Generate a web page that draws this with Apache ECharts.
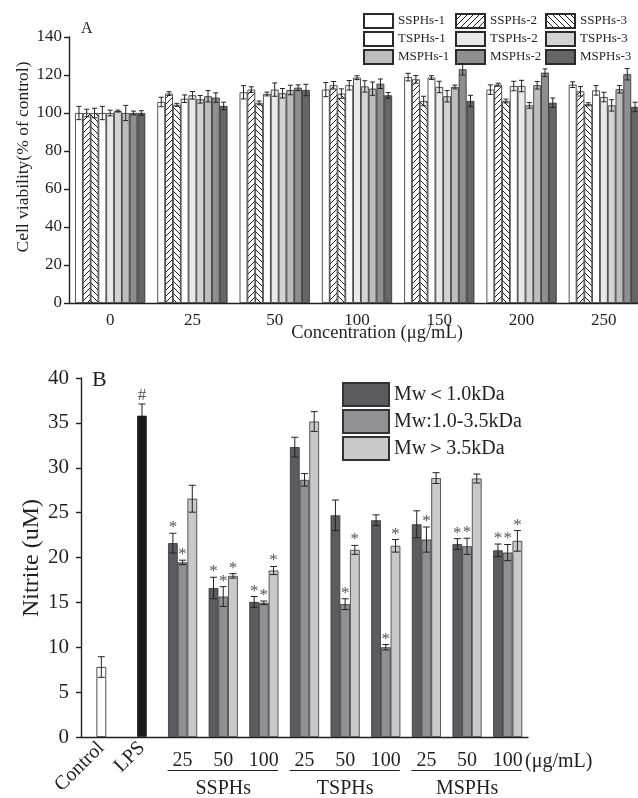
<!DOCTYPE html>
<html>
<head>
<meta charset="utf-8">
<script src="https://cdn.jsdelivr.net/npm/echarts@6.0.0/dist/echarts.min.js"></script>
<style>
  html, body { margin: 0; padding: 0; background: #fff; }
  #main { width: 638px; height: 798px; }
</style>
</head>
<body>
<div id="main"></div>
<script>
// ---- panel A: cell viability ----
const concLabels = ['0', '25', '50', '100', '150', '200', '250']
const namesA = ['SSPHs-1', 'SSPHs-2', 'SSPHs-3', 'TSPHs-1', 'TSPHs-2', 'TSPHs-3', 'MSPHs-1', 'MSPHs-2', 'MSPHs-3']
const viability = [
  [100, 105.8, 110.9, 112.3, 118.9, 112.3, 114.9],
  [100, 110.2, 112.3, 114.6, 117.7, 114.9, 111.4],
  [100, 104.3, 105.3, 110.2, 106.3, 106.3, 104.6],
  [100, 107.5, 110.0, 114.6, 118.6, 114.2, 111.9],
  [100, 109.3, 112.3, 118.6, 113.7, 114.2, 108.4],
  [101, 107.2, 110.4, 114.0, 108.8, 104.0, 104.0],
  [100, 108.8, 112.1, 112.8, 113.7, 114.6, 112.5],
  [100, 108.1, 113.3, 115.4, 123.0, 121.2, 120.4],
  [100, 103.7, 112.1, 109.3, 106.3, 105.4, 103.2]
]
const viabilitySd = [
  [3.5, 2.5, 3.5, 3.7, 2.0, 2.5, 1.5],
  [2.0, 1.0, 1.5, 2.0, 2.0, 0.8, 2.5],
  [2.5, 0.8, 1.0, 2.5, 2.5, 1.0, 0.8],
  [3.5, 2.0, 1.0, 2.5, 1.0, 2.5, 2.5],
  [1.5, 2.0, 3.5, 1.0, 3.0, 3.0, 2.5],
  [0.5, 2.0, 2.5, 3.0, 3.0, 1.5, 3.0],
  [4.0, 3.0, 2.5, 3.5, 1.0, 2.0, 2.0],
  [1.0, 2.5, 1.5, 2.5, 3.0, 2.0, 3.0],
  [1.2, 2.0, 3.0, 1.5, 3.0, 2.5, 2.5]
]

// ---- panel B: nitrite ----
const nitriteCats = ['Control', 'LPS', '25', '50', '100', '25', '50', '100', '25', '50', '100']
const groupLabels = ['SSPHs', 'TSPHs', 'MSPHs']
const controlLps = [7.8, 35.8]
const controlLpsSd = [1.15, 1.3]
const namesB = ['Mw＜1.0kDa', 'Mw:1.0-3.5kDa', 'Mw＞3.5kDa']
const nitriteLow = [21.6, 16.6, 15.05, 32.3, 24.7, 24.15, 23.7, 21.5, 20.8]
const nitriteMid = [19.45, 15.65, 14.95, 28.65, 14.8, 10.0, 22.0, 21.25, 20.55]
const nitriteHigh = [26.55, 17.95, 18.55, 35.15, 20.85, 21.3, 28.85, 28.8, 21.85]
const sdLow = [1.1, 1.2, 0.6, 1.1, 1.7, 0.6, 1.5, 0.6, 0.7]
const sdMid = [0.25, 1.1, 0.2, 0.7, 0.6, 0.3, 1.4, 0.9, 0.9]
const sdHigh = [1.5, 0.25, 0.45, 1.1, 0.5, 0.7, 0.6, 0.5, 1.15]
const starLow = [1, 1, 1, 0, 0, 0, 0, 1, 1]
const starMid = [1, 1, 1, 0, 1, 1, 1, 1, 1]
const starHigh = [0, 1, 1, 0, 1, 1, 0, 0, 1]

const FONT = "'Liberation Serif', 'DejaVu Serif', serif"
const INK = '#231f20'

function hatch(dir) {
  const c = document.createElement('canvas')
  c.width = 6; c.height = 6
  const g = c.getContext('2d')
  g.fillStyle = '#fff'
  g.fillRect(0, 0, 6, 6)
  g.strokeStyle = '#1e1e1e'
  g.lineWidth = 1
  g.beginPath()
  if (dir > 0) {
    g.moveTo(-1, 7); g.lineTo(7, -1)
    g.moveTo(-1, 1); g.lineTo(1, -1)
    g.moveTo(5, 7); g.lineTo(7, 5)
  } else {
    g.moveTo(-1, -1); g.lineTo(7, 7)
    g.moveTo(-1, 5); g.lineTo(1, 7)
    g.moveTo(5, -1); g.lineTo(7, 1)
  }
  g.stroke()
  return { image: c, repeat: 'repeat' }
}

const fillsA = ['#ffffff', hatch(1), hatch(-1), '#ffffff', '#e9e9e9', '#d3d3d3', '#bdbdbd', '#8e8e8e', '#666666']
const fillsB = ['#5c5c60', '#909094', '#c8c9cb']
const BW_A = 7.8
const BW_B = 9.7

// whiskers drawn through the axes' own scale
function errorBars(bw, cap) {
  return function (params, api) {
    const k = api.value(0), v = api.value(1), e = api.value(2)
    const s = api.value(3), n = api.value(4), mark = api.value(5)
    const x = api.coord([k, v])[0] + (s - (n - 1) / 2) * bw
    const yHi = api.coord([k, v + e])[1]
    const yLo = api.coord([k, v - e])[1]
    const st = { stroke: '#222', lineWidth: 1 }
    const kids = [
      { type: 'line', shape: { x1: x, y1: yHi, x2: x, y2: yLo }, style: st },
      { type: 'line', shape: { x1: x - cap / 2, y1: yHi, x2: x + cap / 2, y2: yHi }, style: st },
      { type: 'line', shape: { x1: x - cap / 2, y1: yLo, x2: x + cap / 2, y2: yLo }, style: st }
    ]
    if (mark) {
      kids.push({
        type: 'text', x: x, y: yHi + (mark === 2 ? 0 : 3),
        style: {
          text: mark === 2 ? '#' : '*', fill: '#555', font: '17px ' + FONT,
          align: 'center', verticalAlign: 'bottom', textAlign: 'center', textVerticalAlign: 'bottom'
        }
      })
    }
    return { type: 'group', children: kids }
  }
}

const errA = []
viability.forEach((row, s) => row.forEach((v, k) => errA.push([k, v, viabilitySd[s][k], s, 9, 0])))

const errB = []
controlLps.forEach((v, k) => errB.push([k, v, controlLpsSd[k], 0, 1, k === 1 ? 2 : 0]))
const seriesB = [[nitriteLow, sdLow, starLow], [nitriteMid, sdMid, starMid], [nitriteHigh, sdHigh, starHigh]]
seriesB.forEach(([vals, sds, stars], s) => vals.forEach((v, k) => errB.push([k + 2, v, sds[k], s, 3, stars[k]])))

const axisLineStyle = { color: INK, width: 1.4 }

const option = {
  animation: false,
  backgroundColor: '#fff',
  grid: [
    { left: 69, top: 37, width: 576, height: 266, outerBoundsMode: 'none' },
    { left: 81, top: 378, width: 447, height: 359, outerBoundsMode: 'none' }
  ],
  legend: [
    { left: 363, names: [0, 3, 6] },
    { left: 455, names: [1, 4, 7] },
    { left: 545, names: [2, 5, 8] }
  ].map(col => ({
    orient: 'vertical', left: col.left, top: 13, padding: 0,
    data: col.names.map(i => namesA[i]),
    itemWidth: 29, itemHeight: 14, itemGap: 2, icon: 'rect', selectedMode: false,
    textStyle: { fontFamily: FONT, fontSize: 13, color: INK }
  })).concat([{
    orient: 'vertical', left: 342, top: 382, padding: 0,
    data: namesB, itemWidth: 46, itemHeight: 23, itemGap: 2, icon: 'rect', selectedMode: false,
    textStyle: { fontFamily: FONT, fontSize: 20, color: INK }
  }]),
  xAxis: [
    {
      type: 'category', gridIndex: 0, data: concLabels, position: 'bottom',
      axisLine: { lineStyle: axisLineStyle },
      axisTick: { alignWithLabel: true, length: 5, lineStyle: axisLineStyle },
      axisLabel: { interval: 0, fontFamily: FONT, fontSize: 17, color: INK, margin: 9 }
    },
    {
      type: 'category', gridIndex: 1, data: nitriteCats, position: 'bottom',
      axisLine: { lineStyle: axisLineStyle },
      axisTick: { alignWithLabel: true, length: 5, lineStyle: axisLineStyle },
      axisLabel: {
        interval: 0, fontFamily: FONT, fontSize: 20, color: INK, margin: 13, lineHeight: 22,
        formatter: (val, idx) => {
          if (idx < 2) return ''
          if ((idx - 3) % 3 === 0) return val + '\n{g|' + groupLabels[(idx - 3) / 3] + '}'
          return val
        },
        rich: { g: { fontFamily: FONT, fontSize: 20, color: INK, lineHeight: 34 } }
      }
    },
    {
      type: 'category', gridIndex: 1, data: nitriteCats, position: 'bottom',
      axisLine: { show: false }, axisTick: { show: false },
      axisLabel: {
        interval: 0, rotate: 45, fontFamily: FONT, fontSize: 20, color: INK, margin: 8,
        formatter: (val, idx) => idx < 2 ? val : ''
      }
    }
  ],
  yAxis: [
    {
      type: 'value', gridIndex: 0, min: 0, max: 140, interval: 20,
      axisLine: { show: true, lineStyle: axisLineStyle },
      axisTick: { show: true, length: 5, lineStyle: axisLineStyle },
      splitLine: { show: false },
      axisLabel: { fontFamily: FONT, fontSize: 17, color: INK, margin: 7 }
    },
    {
      type: 'value', gridIndex: 1, min: 0, max: 40, interval: 5,
      axisLine: { show: true, lineStyle: axisLineStyle },
      axisTick: { show: true, length: 5, lineStyle: axisLineStyle },
      splitLine: { show: false },
      axisLabel: { fontFamily: FONT, fontSize: 21, color: INK, margin: 12 }
    }
  ],
  series: namesA.map((name, i) => ({
    type: 'bar', name: name, xAxisIndex: 0, yAxisIndex: 0,
    data: viability[i], barWidth: BW_A, barGap: '0%',
    itemStyle: { color: fillsA[i], borderColor: '#2a2a2a', borderWidth: 0.8 }
  })).concat(namesB.map((name, i) => ({
    type: 'bar', name: name, xAxisIndex: 1, yAxisIndex: 1,
    data: ['-', '-'].concat(seriesB[i][0]), barWidth: BW_B, barGap: '0%',
    itemStyle: { color: fillsB[i], borderColor: '#333', borderWidth: 0.8 }
  }))).concat([
    {
      type: 'bar', name: 'Control/LPS', xAxisIndex: 2, yAxisIndex: 1, barWidth: BW_B,
      data: controlLps.map((v, k) => ({ value: v, itemStyle: { color: k === 0 ? '#ffffff' : '#1c1a1b' } })),
      itemStyle: { borderColor: '#222', borderWidth: 0.8 }
    },
    {
      type: 'custom', xAxisIndex: 0, yAxisIndex: 0, z: 5,
      renderItem: errorBars(BW_A, 5), data: errA
    },
    {
      type: 'custom', xAxisIndex: 1, yAxisIndex: 1, z: 5,
      renderItem: errorBars(BW_B, 7), data: errB
    }
  ])
}

const chart = echarts.init(document.getElementById('main'))
chart.setOption(option)

// titles and the group underlines under the B axis
function txt(text, x, y, size, opts) {
  return Object.assign({
    type: 'text', x: x, y: y,
    style: Object.assign({
      text: text, fill: INK, font: size + 'px ' + FONT,
      align: 'center', verticalAlign: 'middle', textAlign: 'center', textVerticalAlign: 'middle'
    }, (opts && opts.style) || {})
  }, (opts && opts.el) || {})
}

const px = i => chart.convertToPixel({ xAxisIndex: 1 }, i)
const graphics = [
  txt('A', 81, 29, 16, { style: { align: 'left', textAlign: 'left' } }),
  txt('B', 92, 380, 22, { style: { align: 'left', textAlign: 'left' } }),
  txt('Cell viability(% of control)', 23, 157, 17.5, { el: { rotation: Math.PI / 2 } }),
  txt('Concentration (μg/mL)', 377, 333, 18.5),
  txt('Nitrite (uM)', 32, 558, 24, { el: { rotation: Math.PI / 2 } }),
  txt('(μg/mL)', 525, 762, 20, { style: { align: 'left', textAlign: 'left' } })
]
groupLabels.forEach((g, j) => {
  const x1 = px(2 + j * 3) - 15
  const x2 = px(4 + j * 3) + 14
  graphics.push({ type: 'line', shape: { x1: x1, y1: 770.5, x2: x2, y2: 770.5 }, style: { stroke: INK, lineWidth: 1 } })
})
chart.setOption({ graphic: graphics })
</script>
</body>
</html>
